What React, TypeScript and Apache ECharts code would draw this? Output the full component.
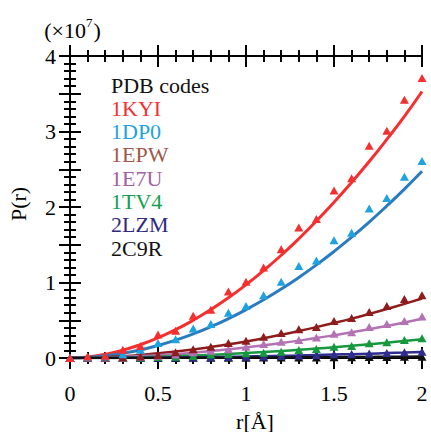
import React, { useEffect, useRef } from "react";
import * as echarts from "echarts";

// r values (Å)
const R = [0, 0.1, 0.2, 0.3, 0.4, 0.5, 0.6, 0.7, 0.8, 0.9, 1.0, 1.1, 1.2, 1.3, 1.4, 1.5, 1.6, 1.7, 1.8, 1.9, 2.0];

// measured points (×10^7)
const pts1KYI = [0, 0.02, 0.03, 0.11, 0.16, 0.31, 0.36, 0.56, 0.64, 0.88, 1.01, 1.2, 1.44, 1.73, 1.84, 2.22, 2.38, 2.81, 3.01, 3.42, 3.71];
const pts1DP0 = [0, 0.01, 0.02, 0.05, 0.11, 0.2, 0.25, 0.39, 0.45, 0.6, 0.69, 0.83, 1.01, 1.22, 1.29, 1.56, 1.66, 1.98, 2.12, 2.4, 2.61];
const pts1EPW = [0, 0.002, 0.005, 0.01, 0.02, 0.04, 0.075, 0.115, 0.15, 0.2, 0.23, 0.28, 0.33, 0.38, 0.41, 0.49, 0.53, 0.61, 0.69, 0.78, 0.83];
const pts1E7U = [0, 0.001, 0.003, 0.008, 0.015, 0.03, 0.045, 0.075, 0.097, 0.115, 0.15, 0.185, 0.216, 0.24, 0.27, 0.32, 0.34, 0.41, 0.45, 0.49, 0.55];
const pts1TV4 = [0, 0, 0.001, 0.003, 0.006, 0.012, 0.018, 0.026, 0.045, 0.053, 0.062, 0.07, 0.083, 0.106, 0.12, 0.15, 0.16, 0.195, 0.21, 0.24, 0.26];
const pts2LZM = [0, 0, 0, 0.001, 0.002, 0.003, 0.005, 0.007, 0.009, 0.012, 0.015, 0.02, 0.025, 0.032, 0.04, 0.05, 0.053, 0.06, 0.066, 0.075, 0.083];
const pts2C9R = [0, 0, 0, 0, 0, 0.001, 0.001, 0.002, 0.002, 0.003, 0.004, 0.005, 0.006, 0.007, 0.008, 0.01, 0.011, 0.012, 0.014, 0.016, 0.018];

// fitted curves (×10^7)
const fit1KYI = [0, 0.013, 0.049, 0.103, 0.177, 0.267, 0.375, 0.5, 0.641, 0.797, 0.97, 1.158, 1.361, 1.58, 1.814, 2.062, 2.325, 2.602, 2.895, 3.2, 3.53];
const fit1DP0 = [0, 0.007, 0.028, 0.061, 0.107, 0.166, 0.236, 0.319, 0.414, 0.521, 0.64, 0.771, 0.913, 1.067, 1.233, 1.411, 1.6, 1.801, 2.014, 2.237, 2.473];
const fit1EPW = [0, 0.003, 0.011, 0.024, 0.041, 0.062, 0.086, 0.114, 0.146, 0.181, 0.22, 0.262, 0.308, 0.357, 0.409, 0.464, 0.522, 0.584, 0.649, 0.717, 0.788];
const fit1E7U = [0, 0.002, 0.007, 0.014, 0.025, 0.038, 0.053, 0.071, 0.092, 0.115, 0.14, 0.168, 0.198, 0.23, 0.264, 0.301, 0.34, 0.382, 0.425, 0.471, 0.519];
const fit1TV4 = [0, 0.001, 0.003, 0.006, 0.011, 0.017, 0.024, 0.033, 0.042, 0.053, 0.065, 0.078, 0.093, 0.108, 0.125, 0.143, 0.162, 0.182, 0.203, 0.226, 0.249];
const fit2LZM = [0, 0.0002, 0.0008, 0.0018, 0.0032, 0.005, 0.0072, 0.0098, 0.0128, 0.0162, 0.02, 0.0242, 0.0288, 0.0338, 0.0392, 0.045, 0.0512, 0.0578, 0.0648, 0.0722, 0.08];
const fit2C9R = [0, 0, 0.0002, 0.0005, 0.0008, 0.0013, 0.0018, 0.0025, 0.0032, 0.004, 0.005, 0.006, 0.0072, 0.0085, 0.0098, 0.0113, 0.0128, 0.0145, 0.0162, 0.018, 0.02];

const CODES = ["1KYI", "1DP0", "1EPW", "1E7U", "1TV4", "2LZM", "2C9R"];
const POINTS = [pts1KYI, pts1DP0, pts1EPW, pts1E7U, pts1TV4, pts2LZM, pts2C9R];
const FITS = [fit1KYI, fit1DP0, fit1EPW, fit1E7U, fit1TV4, fit2LZM, fit2C9R];
const MARKER_COLORS = ["#f52f2f", "#1ea3e0", "#8e1c1c", "#b272b4", "#15983e", "#2e2c8c", "#111111"];
const LINE_COLORS = ["#f52f2f", "#2a7bbf", "#8e1c1c", "#b272b4", "#15983e", "#2e2c8c", "#111111"];
const LEGEND_COLORS = ["#f23232", "#1ea3e0", "#a0584a", "#a060a8", "#12a050", "#302880", "#111111"];
const LEGEND_TITLE = "PDB codes";

const X_TICKS = { min: 0, max: 2, interval: 0.5 };
const Y_TICKS = { min: 0, max: 4, interval: 0.5 };

const FONT = "Liberation Serif";

export default function App() {
  const ref = useRef<HTMLDivElement>(null);
  useEffect(() => {
    document.body.style.margin = "0";
    if (!ref.current) return;
    const chart = echarts.init(ref.current, undefined, { renderer: "svg" });

    const axisLine = { show: true, lineStyle: { color: "#000", width: 2 } };
    const mkX = (position: string, inside: boolean, labels: boolean) => ({
      type: "value",
      position,
      min: X_TICKS.min,
      max: X_TICKS.max,
      interval: X_TICKS.interval,
      axisLine,
      axisTick: { show: true, inside, length: 11, lineStyle: { color: "#000", width: 2 } },
      minorTick: { show: true, splitNumber: 5, length: 6, lineStyle: { color: "#000", width: 2 } },
      splitLine: { show: false },
      minorSplitLine: { show: false },
      axisLabel: labels
        ? { show: true, margin: 24, fontFamily: FONT, fontSize: 22, color: "#000" }
        : { show: false },
    });
    const mkY = (position: string, labels: boolean) => ({
      type: "value",
      position,
      min: Y_TICKS.min,
      max: Y_TICKS.max,
      interval: Y_TICKS.interval,
      axisLine,
      axisTick: { show: true, inside: true, length: 11, lineStyle: { color: "#000", width: 2 } },
      minorTick: { show: true, splitNumber: 5, length: 6, lineStyle: { color: "#000", width: 2 } },
      splitLine: { show: false },
      minorSplitLine: { show: false },
      axisLabel: labels
        ? {
            show: true,
            margin: 14,
            fontFamily: FONT,
            fontSize: 22,
            color: "#000",
            formatter: (v: number) => (Math.abs(v - Math.round(v)) < 1e-9 ? String(Math.round(v)) : ""),
          }
        : { show: false },
    });

    const series: any[] = [];
    CODES.forEach((code, i) => {
      series.push({
        name: code + " fit",
        type: "line",
        xAxisIndex: 0,
        yAxisIndex: 0,
        smooth: true,
        showSymbol: false,
        symbol: "none",
        lineStyle: { color: LINE_COLORS[i], width: i < 2 ? 3 : 2.5 },
        data: R.map((r, k) => [r, FITS[i][k]]),
        z: 3,
      });
    });
    CODES.forEach((code, i) => {
      series.push({
        name: code,
        type: "scatter",
        xAxisIndex: 0,
        yAxisIndex: 0,
        symbol: "triangle",
        symbolSize: [9, 8],
        itemStyle: { color: MARKER_COLORS[i], opacity: 1 },
        data: R.map((r, k) => [r, POINTS[i][k]]),
        z: 4 + (CODES.length - i) * 0.01,
      });
    });

    const graphic: any[] = [
      {
        type: "text",
        x: 111,
        y: 85,
        style: { text: LEGEND_TITLE, font: `22px "${FONT}"`, fill: "#111", align: "left", verticalAlign: "middle" },
      },
      ...CODES.map((c, i) => ({
        type: "text",
        x: 111,
        y: 108.3 + i * 23.3,
        style: { text: c, font: `22px "${FONT}"`, fill: LEGEND_COLORS[i], align: "left", verticalAlign: "middle" },
      })),
      {
        type: "text",
        x: 86,
        y: 30,
        style: { text: "(×10", font: `22px "${FONT}"`, fill: "#000", align: "right", verticalAlign: "middle" },
      },
      {
        type: "text",
        x: 86,
        y: 22,
        style: { text: "7", font: `13px "${FONT}"`, fill: "#000", align: "left", verticalAlign: "middle" },
      },
      {
        type: "text",
        x: 93.5,
        y: 30,
        style: { text: ")", font: `22px "${FONT}"`, fill: "#000", align: "left", verticalAlign: "middle" },
      },
      {
        type: "text",
        x: 18,
        y: 204,
        rotation: Math.PI / 2,
        style: { text: "P(r)", font: `22px "${FONT}"`, fill: "#000", align: "center", verticalAlign: "middle" },
      },
      {
        type: "text",
        x: 255,
        y: 421,
        style: { text: "r[Å]", font: `22px "${FONT}"`, fill: "#000", align: "center", verticalAlign: "middle" },
      },
    ];

    chart.setOption({
      animation: false,
      backgroundColor: "#fff",
      grid: { left: 70, top: 56, right: 9, bottom: 74, containLabel: false },
      xAxis: [mkX("bottom", false, true), mkX("bottom", true, false), mkX("top", false, false), mkX("top", true, false)],
      yAxis: [mkY("left", true), mkY("right", false)],
      series,
      graphic,
    });
    return () => chart.dispose();
  }, []);
  return <div ref={ref} style={{ width: 431, height: 432 }} />;
}
